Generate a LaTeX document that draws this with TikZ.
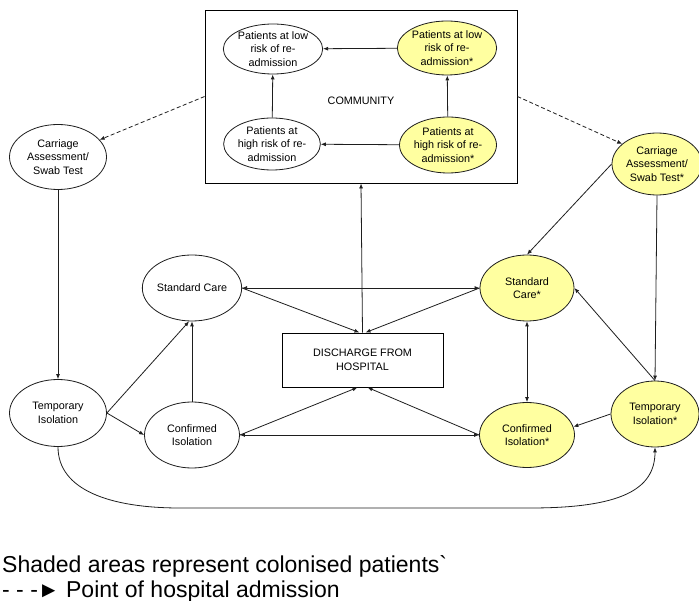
\documentclass[tikz,border=0pt]{standalone}
\usepackage{fontspec}
\setmainfont{Liberation Sans}
\newfontfamily\legfont{Liberation Sans}[Ligatures=TeXOff]
\usetikzlibrary{arrows.meta,shapes.geometric}
\definecolor{colonised}{RGB}{255,255,160}
\definecolor{linegray}{RGB}{30,30,30}
\begin{document}
\begin{tikzpicture}[x=1pt,y=-1pt,
  every node/.style={font=\fontsize{10.8}{13.5}\selectfont, text=black},
  state/.style={ellipse, draw=linegray, line width=0.8pt, inner sep=0pt, align=center, fill=white},
  colstate/.style={state, fill=colonised},
  boxnode/.style={draw=black, line width=0.9pt, inner sep=0pt, align=center},
  conn/.style={draw=linegray, line width=0.8pt, -{Latex[length=5pt,width=4pt]}},
  bconn/.style={conn, {Latex[length=5pt,width=4pt]}-{Latex[length=5pt,width=4pt]}},
  dconn/.style={conn, dashed, dash pattern=on 4pt off 2.5pt},
  legend/.style={anchor=base west, inner sep=0pt, font=\legfont\fontsize{23}{25}\selectfont}]
\useasboundingbox (0,0) rectangle (699,601);
% community
\node[boxnode, minimum width=312pt, minimum height=173pt] (comm) at (361,96.5) {};
\node (commtxt) at (361,101) {COMMUNITY};
\node[state, minimum width=97pt, minimum height=50pt] (lowW) at (273,49) {Patients at low\\risk of re-\\admission};
\node[colstate, minimum width=95pt, minimum height=54pt] (lowY) at (447,48) {Patients at low\\risk of re-\\admission*};
\node[state, minimum width=96pt, minimum height=52pt] (highW) at (272,144) {Patients at\\high risk of re-\\admission};
\node[colstate, minimum width=97pt, minimum height=56pt] (highY) at (448,145) {Patients at\\high risk of re-\\admission*};
% hospital
\node[state, minimum width=97pt, minimum height=65pt] (carrL) at (58,157) {Carriage\\Assessment/\\Swab Test};
\node[colstate, minimum width=90pt, minimum height=62pt] (carrR) at (657,164) {Carriage\\Assessment/\\Swab Test*};
\node[state, minimum width=96pt, minimum height=66pt] (scL) at (192,288) {Standard Care};
\node[colstate, minimum width=94pt, minimum height=66pt] (scR) at (527,288) {Standard\\Care*};
\node[boxnode, minimum width=161pt, minimum height=54pt] (disch) at (362.5,360) {DISCHARGE FROM\\HOSPITAL};
\node[state, minimum width=97pt, minimum height=67pt] (tempL) at (58,413) {Temporary\\Isolation};
\node[state, minimum width=95pt, minimum height=66pt] (confL) at (192,435) {Confirmed\\Isolation};
\node[colstate, minimum width=95pt, minimum height=65pt] (confR) at (527,435) {Confirmed\\Isolation*};
\node[colstate, minimum width=88pt, minimum height=66pt] (tempR) at (655,414) {Temporary\\Isolation*};
% coordinates
\coordinate (dnA) at ([xshift=-3pt]disch.north);
\coordinate (dnB) at ([xshift=3pt]disch.north);
\coordinate (dsA) at ([xshift=-5pt]disch.south);
\coordinate (dsB) at ([xshift=5pt]disch.south);
\coordinate (cb1) at (180,508);
\coordinate (cb2) at (530,508);
% community arrows
\draw[conn] (lowY) -- (lowW);
\draw[conn] (highW) -- (lowW);
\draw[conn] (highY) -- (lowY);
\draw[conn] (highY) -- (highW);
\draw[conn] (disch.north) -- (comm.south);
% admission (dashed)
\draw[dconn] (comm.west) -- (carrL);
\draw[dconn] (comm.east) -- (carrR.150);
% non-colonised side
\draw[conn] (carrL) -- (tempL);
\draw[conn] (tempL.east) -- (scL.265);
\draw[conn] (tempL.east) -- (confL.west);
\draw[conn] (confL) -- (scL);
\draw[bconn] (scL.east) -- (scR.west);
\draw[conn] (scL.east) -- (dnA);
\draw[bconn] (confL.east) -- (confR.west);
\draw[conn] (confL.east) -- (dsA);
% colonised side
\draw[conn] (scR.west) -- (dnB);
\draw[conn] (confR.west) -- (dsB);
\draw[bconn] (scR) -- (confR);
\draw[conn] (carrR.west) -- (scR.north);
\draw[conn] (carrR.south) -- (tempR.north);
\draw[conn] (tempR.north) -- (scR.east);
\draw[conn] (tempR.west) -- (confR.10);
\draw[conn] (tempL.south) .. controls (58,490) and (110,508) .. (cb1) -- (cb2) .. controls (620,508) and (655,490) .. (tempR.south);
% legend
\node[legend] (leg1) at (2,572) {Shaded areas represent colonised patients`};
\node[legend] (leg2) at (2,597) {- - -{\fontsize{22}{22}\selectfont ►} Point of hospital admission};
\end{tikzpicture}
\end{document}
